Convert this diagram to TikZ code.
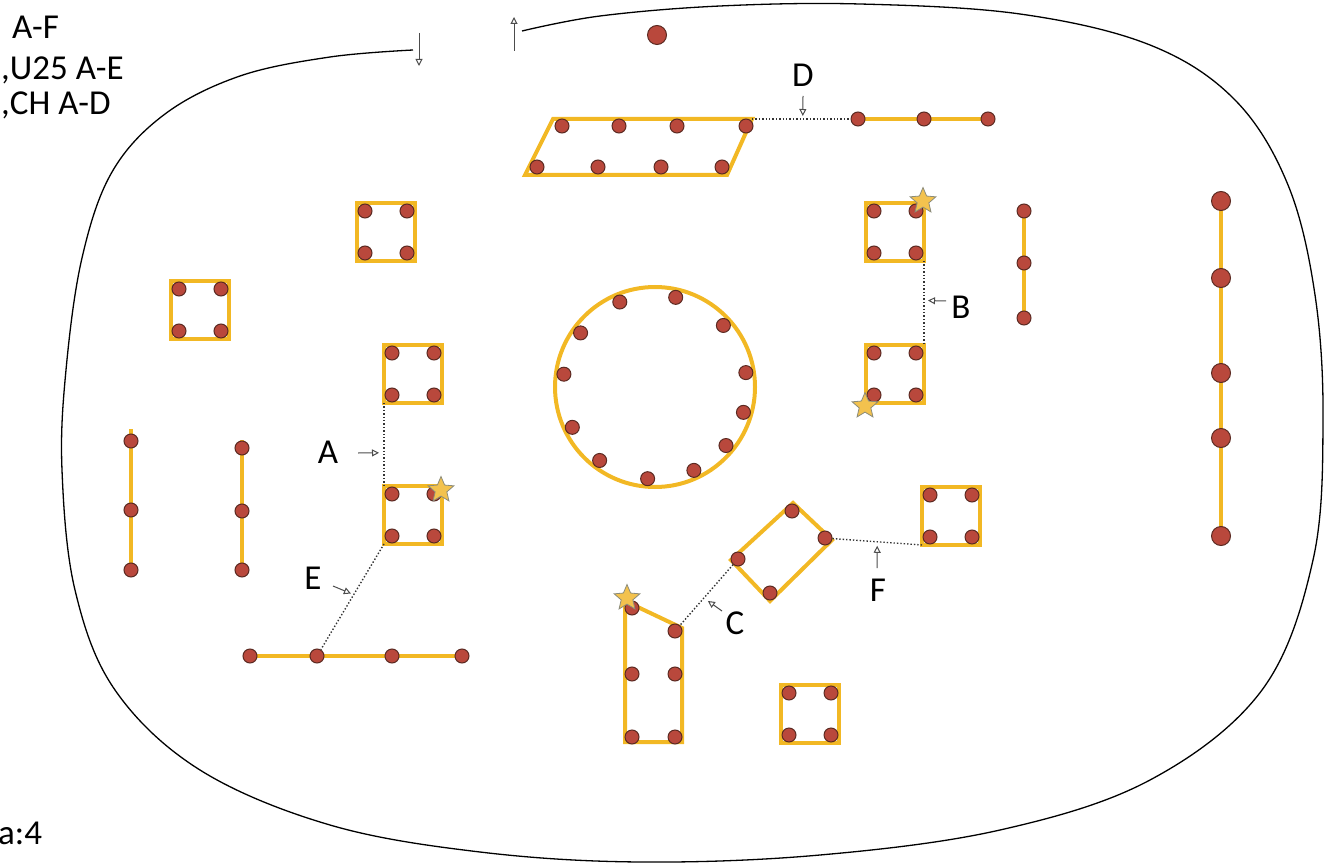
\documentclass[tikz,border=0pt]{standalone}
\usepackage{fontspec}
\setmainfont{Carlito}
\usepackage{tikz}
\usetikzlibrary{arrows.meta,positioning,shapes.geometric}
\definecolor{railgold}{HTML}{F2B824}
\definecolor{pinred}{HTML}{B9483C}
\definecolor{pinedge}{HTML}{5B2A22}
\definecolor{stargold}{HTML}{F3C24E}
\definecolor{stargray}{HTML}{8C8C7A}

\begin{document}
\begin{tikzpicture}[
  x=1pt,y=-1pt,
  rail/.style={draw=railgold,line width=4pt,line join=miter},
  pin/.style={circle,draw=pinedge,fill=pinred,line width=1pt,minimum size=14pt,inner sep=0pt},
  bigpin/.style={pin,minimum size=19pt},
  flag/.style={star,star points=5,star point ratio=2.2,minimum size=27pt,inner sep=0pt,fill=stargold,draw=stargray,line width=0.8pt},
  link/.style={dotted,line width=1.4pt,draw=black!80},
  pointer/.style={-{Triangle[open,length=7pt,width=7pt]},line width=1pt,draw=black!70},
  tag/.style={font=\fontsize{35}{40}\selectfont,inner sep=0pt},
  border/.style={line width=1.3pt,black}
]
\useasboundingbox (0,0) rectangle (1324,866);

% Outline
\draw[border] plot[smooth,tension=0.6] coordinates {(413,50) (330,57) (240,76) (165,114) (112,172) (82,258) (66,370) (62,470) (75,590) (115,690) (200,770) (330,825) (480,852) (640,862) (820,855) (1000,830) (1150,780) (1262,690) (1313,560) (1323,420) (1315,295) (1288,185) (1235,100) (1150,45) (1020,14) (860,4) (720,6) (600,16) (522,31)};
\coordinate (inT) at (419,33);
\coordinate (inH) at (419,66);
\coordinate (outT) at (514,51);
\coordinate (outH) at (514,17);
\draw[pointer] (inT) -- (inH);
\draw[pointer] (outT) -- (outH);
\node[bigpin] (top) at (657,35) {};

% Key
\node[tag,anchor=west] (keyA) at (12,27) {A-F};
\node[tag,anchor=west] (keyB) at (1,70) {,U25 A-E};
\node[tag,anchor=west] (keyC) at (1,105) {,CH A-D};
\node[tag,anchor=west] (note) at (-2,833) {a:4};

% Squares
\foreach \n/\cx/\cy in {sqa/386/232,sqb/200/310,sqc/413/374,sqd/413/515,sqe/895/232,sqf/895/374,sqg/951/516,sqh/810/714}{
  \draw[rail] (\cx-29,\cy-29) rectangle (\cx+29,\cy+29);
  \coordinate (\n-nw) at (\cx-29,\cy-29);
  \coordinate (\n-ne) at (\cx+29,\cy-29);
  \coordinate (\n-sw) at (\cx-29,\cy+29);
  \coordinate (\n-se) at (\cx+29,\cy+29);
  \node[pin] (\n-1) at (\cx-21,\cy-21) {};
  \node[pin] (\n-2) at (\cx+21,\cy-21) {};
  \node[pin] (\n-3) at (\cx-21,\cy+21) {};
  \node[pin] (\n-4) at (\cx+21,\cy+21) {};
}

% Parallelogram
\coordinate (par-nw) at (553,119);
\coordinate (par-ne) at (752,119);
\coordinate (par-se) at (727,175);
\coordinate (par-sw) at (525,175);
\draw[rail] (par-nw) -- (par-ne) -- (par-se) -- (par-sw) -- cycle;
\foreach \n/\px/\py in {1/562/126,2/619/126,3/677/126,4/746/126,5/537/167,6/598/167,7/661/167,8/722/167}
  \node[pin] (par-\n) at (\px,\py) {};

% Top line
\draw[rail] (858,119) -- (995,119);
\node[pin] (row-1) at (858,119) {};
\node[pin] (row-2) at (924,119) {};
\node[pin] (row-3) at (988,119) {};

% Ring
\draw[rail] (655,387) circle[radius=100];
\foreach \a [count=\i] in {112.5,77,42,9,-16,-39.5,-65,-94.6,-127,-154,172,144}
  \node[pin] (ring-\i) at ({655+92*cos(\a)},{387-92*sin(\a)}) {};

% Tilted box
\coordinate (tilt-n) at (793,503);
\coordinate (tilt-e) at (832,540);
\coordinate (tilt-s) at (770,601);
\coordinate (tilt-w) at (731,560);
\draw[rail] (tilt-n) -- (tilt-e) -- (tilt-s) -- (tilt-w) -- cycle;
\node[pin] (tilt-1) at (792,511) {};
\node[pin] (tilt-2) at (825,538) {};
\node[pin] (tilt-3) at (770,593) {};
\node[pin] (tilt-4) at (738,559) {};

% Tall box
\draw[rail] (625,601) -- (682,628) -- (682,742) -- (625,742) -- cycle;
\node[pin] (tall-1) at (632,608) {};
\node[pin] (tall-2) at (675,631) {};
\node[pin] (tall-3) at (632,674) {};
\node[pin] (tall-4) at (675,674) {};
\node[pin] (tall-5) at (632,737) {};
\node[pin] (tall-6) at (675,737) {};

% Bottom line
\draw[rail] (243,656) -- (468,656);
\node[pin] (low-1) at (250,656) {};
\node[pin] (low-2) at (317,656) {};
\node[pin] (low-3) at (392,656) {};
\node[pin] (low-4) at (462,656) {};

% Vertical lines
\draw[rail] (131,429) -- (131,571);
\node[pin] (va-1) at (131,441) {};
\node[pin] (va-2) at (131,510) {};
\node[pin] (va-3) at (131,570) {};
\draw[rail] (242,440) -- (242,571);
\node[pin] (vb-1) at (242,448) {};
\node[pin] (vb-2) at (242,511) {};
\node[pin] (vb-3) at (242,570) {};
\draw[rail] (1024,211) -- (1024,318);
\node[pin] (vc-1) at (1024,211) {};
\node[pin] (vc-2) at (1024,263) {};
\node[pin] (vc-3) at (1024,318) {};
\draw[rail] (1221,201) -- (1221,536);
\node[bigpin] (vd-1) at (1221,201) {};
\node[bigpin] (vd-2) at (1221,278) {};
\node[bigpin] (vd-3) at (1221,373) {};
\node[bigpin] (vd-4) at (1221,438) {};
\node[bigpin] (vd-5) at (1221,536) {};

% Stars
\node[flag] (st1) at (923,201) {};
\node[flag] (st2) at (865,406) {};
\node[flag] (st3) at (441,490) {};
\node[flag] (st4) at (627,598) {};

% Links
\draw[link] (sqc-sw) -- coordinate[pos=0.6] (midA) (sqd-nw);
\draw[link] (sqe-se) -- coordinate[pos=0.47] (midB) (sqf-ne);
\draw[link] (tilt-4) -- coordinate[pos=0.55] (midC) (tall-2);
\draw[link] (par-ne) -- coordinate[pos=0.515] (midD) (row-1);
\draw[link] (sqd-sw) -- coordinate[pos=0.48] (midE) (low-2);
\draw[link] (tilt-2) -- coordinate[pos=0.5] (midF) (sqg-sw);

% Labels
\node[tag] (labA) at (328,452) {A};
\node[tag] (labB) at (961,307) {B};
\node[tag] (labC) at (735,623) {C};
\node[tag] (labD) at (803,75) {D};
\node[tag] (labE) at (313,578) {E};
\node[tag] (labF) at (878,590) {F};
\coordinate (tailA) at (358,453);
\coordinate (tailB) at (946,301);
\coordinate (tailC) at (722,611);
\coordinate (tailD) at (803,96);
\coordinate (tailE) at (333,586);
\coordinate (tailF) at (877,568);
\draw[pointer,shorten >=5pt] (tailA) -- (midA);
\draw[pointer,shorten >=4pt] (tailB) -- (midB);
\draw[pointer,shorten >=5pt] (tailC) -- (midC);
\draw[pointer,shorten >=3pt] (tailD) -- (midD);
\draw[pointer,shorten >=3pt] (tailE) -- (midE);
\draw[pointer,shorten >=4pt] (tailF) -- (midF);

\end{tikzpicture}
\end{document}
